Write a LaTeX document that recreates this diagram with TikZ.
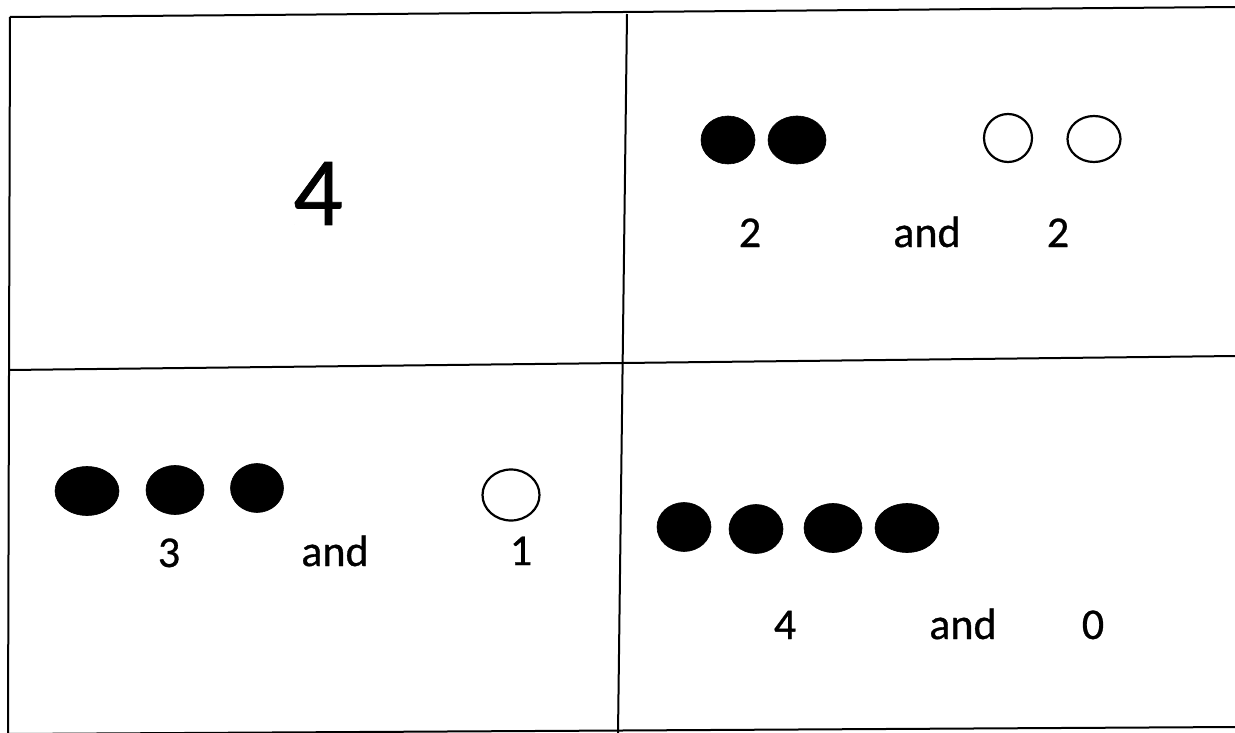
\documentclass[tikz,border=0pt]{standalone}
\usepackage{fontspec}
\setmainfont{Carlito}
\newfontfamily\scanfont{Carlito}[RawFeature={embolden=0.7}]
\usetikzlibrary{shapes.geometric}
\tikzset{
  frame/.style={line width=2pt, black},
  fdot/.style={ellipse, fill=black, draw=black, line width=0.6pt, inner sep=0pt},
  odot/.style={ellipse, draw=black, line width=2.2pt, inner sep=0pt},
  lbl/.style={anchor=base, inner sep=0pt, font=\scanfont\fontsize{44}{50}\selectfont},
  big/.style={anchor=base, inner sep=0pt, font=\scanfont\fontsize{98}{110}\selectfont}
}
\begin{document}
\begin{tikzpicture}[x=1pt,y=-1pt]
\useasboundingbox (0,0) rectangle (1235,733);
\fill[white] (0,0) rectangle (1235,733);
% frame
\coordinate (tl) at (10,17);
\coordinate (tm) at (627,14);
\coordinate (tr) at (1236,7);
\coordinate (ml) at (9,370);
\coordinate (mr) at (1236,356);
\coordinate (bl) at (8,734);
\coordinate (bm) at (618,734);
\coordinate (br) at (1236,727);
\draw[frame] (tl) -- (tr);
\draw[frame] (tl) -- (bl);
\draw[frame] (tm) -- (bm);
\draw[frame] (ml) -- (mr);
\draw[frame] (bl) -- (br);
% top-left panel
\node[big] (n4) at (318,225) {4};
% top-right panel
\node[fdot, minimum width=54, minimum height=48] (a1) at (728,140) {};
\node[fdot, minimum width=58, minimum height=48] (a2) at (797,140) {};
\node[odot, minimum width=48, minimum height=48] (a3) at (1008,138) {};
\node[odot, minimum width=53, minimum height=46] (a4) at (1094,139) {};
\node[lbl] (at1) at (750,247) {2};
\node[lbl] (at2) at (927,247) {and};
\node[lbl] (at3) at (1058,247) {2};
% bottom-left panel
\node[fdot, minimum width=64, minimum height=49] (b1) at (87,491) {};
\node[fdot, minimum width=58, minimum height=49] (b2) at (175,490) {};
\node[fdot, minimum width=53, minimum height=49] (b3) at (257,488) {};
\node[odot, minimum width=57, minimum height=51] (b4) at (511,495) {};
\node[lbl] (bt1) at (169,567) {3};
\node[lbl] (bt2) at (335,566) {and};
\node[lbl] (bt3) at (521,565) {1};
% bottom-right panel
\node[fdot, minimum width=54, minimum height=49] (c1) at (684,527) {};
\node[fdot, minimum width=54, minimum height=49] (c2) at (756,529) {};
\node[fdot, minimum width=58, minimum height=49] (c3) at (833,528) {};
\node[fdot, minimum width=64, minimum height=49] (c4) at (907,528) {};
\node[lbl] (ct1) at (785,639) {4};
\node[lbl] (ct2) at (963,639) {and};
\node[lbl] (ct3) at (1093,639) {0};
\end{tikzpicture}
\end{document}
